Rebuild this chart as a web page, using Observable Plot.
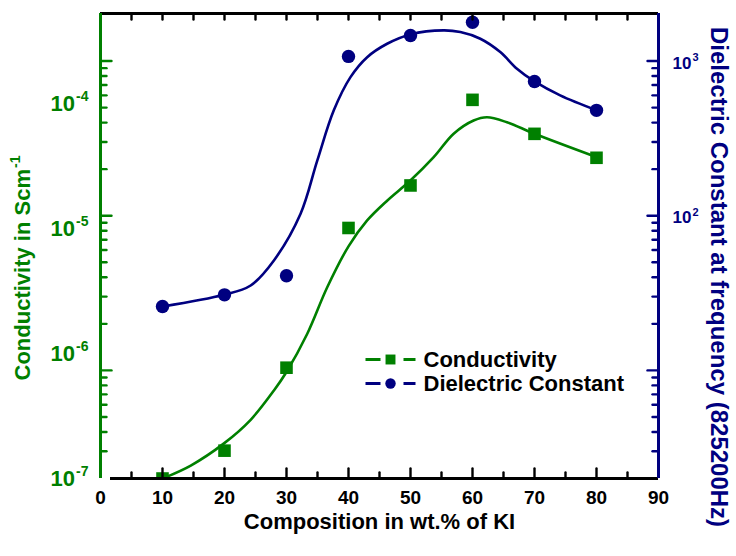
<!DOCTYPE html>
<html><head><meta charset="utf-8">
<script src="https://cdn.jsdelivr.net/npm/d3@7"></script>
<script src="https://cdn.jsdelivr.net/npm/@observablehq/plot@0.6"></script>
<style>html,body{margin:0;padding:0;background:#fff} svg{display:block}</style>
</head><body><div id="chart"></div>
<script>
// ---- data ----
const composition = [10, 20, 30, 40, 50, 60, 70, 80];
const conductivity = [1.0e-7, 1.67e-7, 7.7e-7, 1.01e-5, 2.21e-5, 1.07e-4, 5.72e-5, 3.68e-5];
const dielectric = [25.9, 30.8, 40.9, 1072, 1462, 1783, 738, 480];

const condFitX = [10, 14.56, 19.92, 24.22, 27.97, 29.97, 33.35, 36.57, 40.0, 43.01, 46.23, 49.98, 53.74, 56.96, 60.18, 62.34, 65.56, 70.0, 80.05];
const condFitY = [1.0e-7, 1.27e-7, 1.91e-7, 2.95e-7, 5.06e-7, 7.08e-7, 1.44e-6, 3.39e-6, 7.2e-6, 1.16e-5, 1.67e-5, 2.42e-5, 3.72e-5, 5.73e-5, 7.31e-5, 7.76e-5, 7.08e-5, 5.73e-5, 3.72e-5];

const dielFitX = [10.05, 19.92, 24.22, 27.97, 32.27, 34.96, 37.63, 40.32, 43.01, 46.23, 49.98, 55.35, 58.04, 61.26, 64.48, 67.17, 70.0, 74.14, 80.05];
const dielFitY = [25.9, 30.8, 35.4, 51.4, 103, 227, 480, 787, 1059, 1294, 1486, 1578, 1539, 1394, 1143, 892, 738, 600, 480];

const xTickLabels = [0, 10, 20, 30, 40, 50, 60, 70, 80, 90];
const xMajorTicks = [10, 20, 30, 40, 50, 60, 70, 80];
const xMinorTicks = [5, 15, 25, 35, 45, 55, 65, 75, 85];
const topTicks = [5, 10, 15, 20, 25, 30, 35, 40, 45, 50, 55, 60, 65, 70, 75, 80, 85];
const leftTickLabels = [1e-7, 1e-6, 1e-5, 1e-4];
const rightMajor = [10, 100, 1000];
const rightMinor = [3, 4, 5, 6, 7, 8, 9, 20, 30, 40, 50, 60, 70, 80, 90, 200, 300, 400, 500, 600, 700, 800, 900];
const condDomain = [1e-7, 5.25e-4];
const dielDomain = [2.0, 2030];

const seriesNames = ["Conductivity", "Dielectric Constant"];
const xTitle = "Composition in wt.% of KI";
const leftTitle = "Conductivity in Scm^-1";
const rightTitle = "Dielectric Constant at frequency (825200Hz)";

// ---- styling ----
const GREEN = "#008000", NAVY = "#000080";
const width = 736, height = 556;
const mL = 100, mR = 78, mT = 13, mB = 78;

// dielectric -> conductivity coordinate (log-log linear map)
const lm = d3.scaleLinear().domain(dielDomain.map(Math.log10)).range(condDomain.map(Math.log10));
const toCond = d => 10 ** lm(Math.log10(d));
const fromCond = c => 10 ** lm.invert(Math.log10(c));

const condPts = composition.map((x, i) => ({x, y: conductivity[i]}));
const dielPts = composition.map((x, i) => ({x, y: toCond(dielectric[i])}));
const condFit = condFitX.map((x, i) => ({x, y: condFitY[i]}));
const dielFit = dielFitX.map((x, i) => ({x, y: toCond(dielFitY[i])}));

// tick tables: both vertical axes share positions (left green, right navy), pointing inward
const sideTicks = vals => vals.flatMap(v => [
  {x: 0, y: toCond(v), r: 90, c: GREEN},
  {x: 90, y: toCond(v), r: 270, c: NAVY}
]);
const vMajor = sideTicks(rightMajor);
const vMinor = sideTicks(rightMinor);
const hMajor = xMajorTicks.map(x => ({x, y: condDomain[0], r: 0}));
const hMinor = xMinorTicks.map(x => ({x, y: condDomain[0], r: 0}))
  .concat(topTicks.map(x => ({x, y: condDomain[1], r: 180})));

const stick = {draw(ctx, l) { ctx.moveTo(0, 0); ctx.lineTo(0, -l); }};
const legendLine = {draw(ctx) { ctx.moveTo(-25, 0); ctx.lineTo(-10, 0); ctx.moveTo(13, 0); ctx.lineTo(25, 0); }};
const exp10 = v => "10^" + Math.round(Math.log10(v));
const tick = (data, o) => Plot.vector(data, {x: "x", y: "y", rotate: "r", shape: stick, anchor: "start", strokeWidth: 2.4, ...o});

const chart = Plot.plot({
  width, height,
  marginLeft: mL, marginRight: mR, marginTop: mT, marginBottom: mB,
  x: {domain: [0, 90]},
  y: {type: "log", domain: condDomain},
  color: {type: "identity"},
  style: {fontFamily: "'Liberation Sans', Arial, sans-serif", fontWeight: "bold", background: "#fff", color: "#000"},
  marks: [
    // fitted curves
    Plot.line(condFit, {x: "x", y: "y", stroke: GREEN, strokeWidth: 2.6, curve: "catmull-rom", clip: true}),
    Plot.line(dielFit, {x: "x", y: "y", stroke: NAVY, strokeWidth: 2.6, curve: "catmull-rom", clip: true}),
    // data points
    Plot.dot(condPts, {x: "x", y: "y", symbol: "square", r: 7.1, fill: GREEN, clip: true}),
    Plot.dot(dielPts, {x: "x", y: "y", symbol: "circle", r: 6.7, fill: NAVY, clip: true}),
    // axis lines
    Plot.ruleY([condDomain[1]], {stroke: "#000", strokeWidth: 3}),
    Plot.ruleY([condDomain[0]], {stroke: "#000", strokeWidth: 3, insetLeft: 10}),
    Plot.ruleX([0], {stroke: GREEN, strokeWidth: 3}),
    Plot.ruleX([90], {stroke: NAVY, strokeWidth: 3}),
    // inward tick marks
    tick(vMajor, {length: 11, stroke: "c"}),
    tick(vMinor, {length: 6, stroke: "c"}),
    tick(hMajor, {length: 10, stroke: "#000"}),
    tick(hMinor, {length: 6, stroke: "#000"}),
    // tick labels
    Plot.axisX({ticks: xTickLabels, tickSize: 0, tickPadding: 12, fontSize: 19, fontWeight: "bold", label: null, tickFormat: d => String(d)}),
    Plot.axisY({anchor: "left", ticks: leftTickLabels, tickSize: 0, tickPadding: 12, fontSize: 22, fontWeight: "bold", color: GREEN, label: null, tickFormat: exp10}),
    Plot.axisY({anchor: "right", ticks: rightMajor.map(toCond), tickSize: 0, tickPadding: 14, dy: 2, fontSize: 17, fontWeight: "bold", color: NAVY, label: null, tickFormat: c => exp10(fromCond(c))}),
    // axis titles
    Plot.text([xTitle], {frameAnchor: "bottom", dy: 43, text: d => d, lineAnchor: "middle", textAnchor: "middle", fontSize: 22, fontWeight: "bold", fill: "#000"}),
    Plot.text([leftTitle], {frameAnchor: "left", dx: -78, dy: 22, rotate: -90, text: d => d, lineAnchor: "middle", textAnchor: "middle", fontSize: 22, fontWeight: "bold", fill: GREEN}),
    Plot.text([rightTitle], {frameAnchor: "right", dx: 60, dy: 31, rotate: 90, text: d => d, lineAnchor: "middle", textAnchor: "middle", fontSize: 24, fontWeight: "bold", fill: NAVY}),
    // legend
    Plot.dot([seriesNames[0]], {frameAnchor: "top-left", dx: 290, dy: 346, symbol: legendLine, fill: "none", stroke: GREEN, strokeWidth: 3}),
    Plot.dot([seriesNames[0]], {frameAnchor: "top-left", dx: 290, dy: 346, symbol: "square", r: 5.6, fill: GREEN}),
    Plot.text([seriesNames[0]], {frameAnchor: "top-left", dx: 323, dy: 346, text: d => d, lineAnchor: "middle", textAnchor: "start", fontSize: 22, fontWeight: "bold", fill: "#000"}),
    Plot.dot([seriesNames[1]], {frameAnchor: "top-left", dx: 290, dy: 370, symbol: legendLine, fill: "none", stroke: NAVY, strokeWidth: 3}),
    Plot.dot([seriesNames[1]], {frameAnchor: "top-left", dx: 290, dy: 370, symbol: "circle", r: 5.2, fill: NAVY}),
    Plot.text([seriesNames[1]], {frameAnchor: "top-left", dx: 323, dy: 370, text: d => d, lineAnchor: "middle", textAnchor: "start", fontSize: 22, fontWeight: "bold", fill: "#000"})
  ]
});

document.getElementById("chart").appendChild(chart);

// superscripts: "base^sup"
chart.querySelectorAll("text").forEach(t => {
  const s = t.textContent;
  if (!s.includes("^")) return;
  const [base, sup] = s.split("^");
  const fs = parseFloat(getComputedStyle(t).fontSize) || 20;
  t.textContent = base;
  const ts = document.createElementNS("http://www.w3.org/2000/svg", "tspan");
  ts.setAttribute("font-size", Math.round(fs * 0.62));
  ts.setAttribute("dy", -(fs * 0.42).toFixed(1));
  ts.setAttribute("dx", "1");
  ts.textContent = sup;
  t.appendChild(ts);
});
</script>
</body></html>
